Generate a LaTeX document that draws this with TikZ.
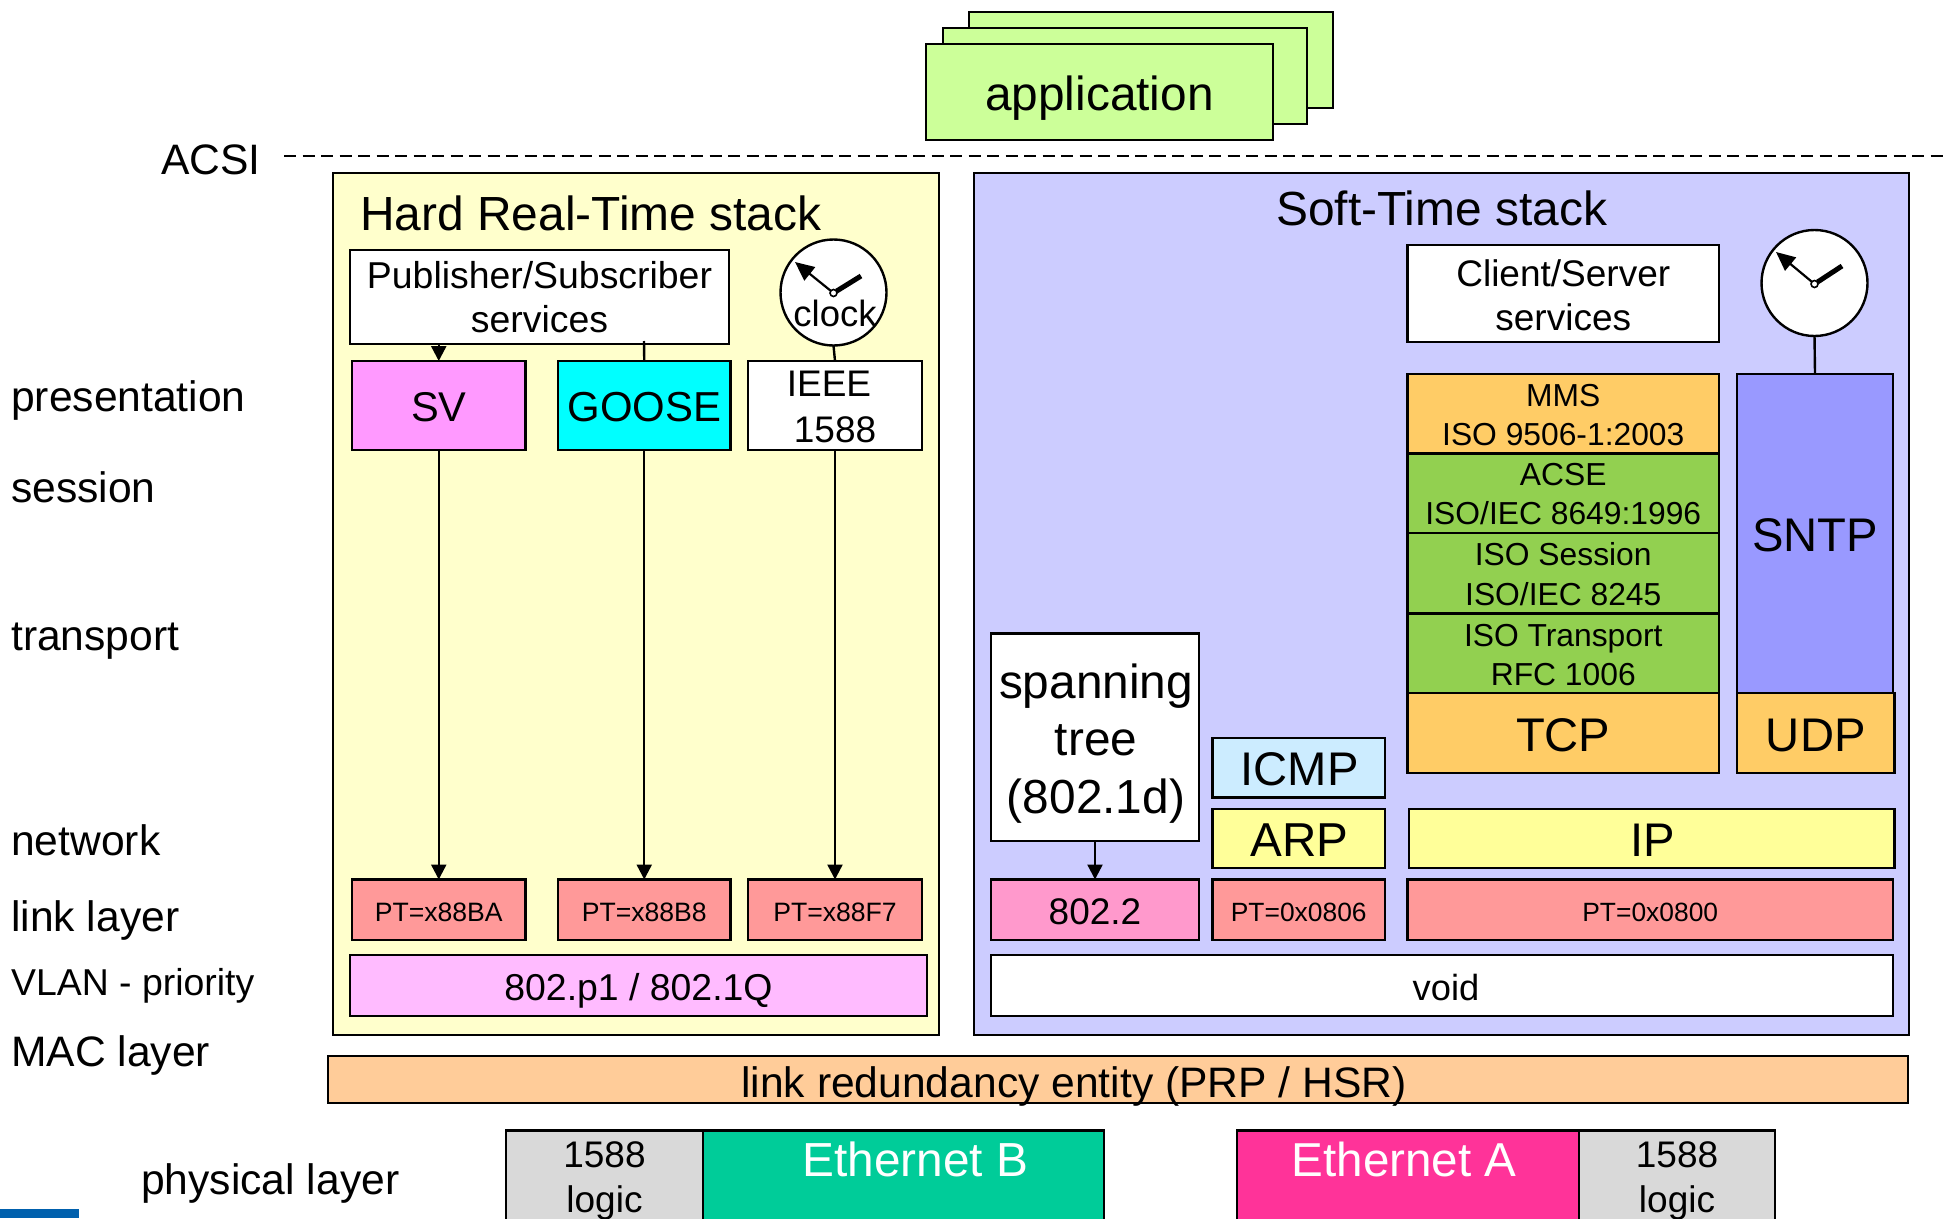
\documentclass[tikz,border=0pt]{standalone}
\usepackage{fontspec}
\setmainfont{Liberation Sans}
\usetikzlibrary{arrows.meta}
\definecolor{hardbg}{HTML}{FFFFCC}
\definecolor{softbg}{HTML}{CCCCFF}
\definecolor{appc}{HTML}{CCFF99}
\definecolor{svc}{HTML}{FF99FF}
\definecolor{goosec}{HTML}{00FFFF}
\definecolor{ptc}{HTML}{FF9999}
\definecolor{vlanc}{HTML}{FFBBFF}
\definecolor{mmsc}{HTML}{FFCC66}
\definecolor{acsec}{HTML}{92D050}
\definecolor{sntpc}{HTML}{9999FF}
\definecolor{icmpc}{HTML}{CCECFF}
\definecolor{ipc}{HTML}{FFFF99}
\definecolor{llcc}{HTML}{FF99CC}
\definecolor{redc}{HTML}{FFCC99}
\definecolor{greyc}{HTML}{D9D9D9}
\definecolor{ethb}{HTML}{00CC99}
\definecolor{etha}{HTML}{FF3399}
\definecolor{bluec}{HTML}{0060AD}
\newcommand\bx[9]{%
  \pgfmathsetmacro\bxw{#4-#2}%
  \pgfmathsetmacro\bxh{#7-#3}%
  \pgfmathsetmacro\bxd{#5-#7}%
  \node[boxbase,#6,minimum width=\bxw pt,text height=\bxh pt,text depth=\bxd pt,
        font=\fontsize{#8}{#8}\selectfont,anchor=north] (#1) at ({(#2+#4)/2},#3) {#9};}
\tikzset{
  boxbase/.style={draw=black,line width=2.3pt,inner sep=0pt,outer sep=0pt,align=center,rectangle},
  lay/.style={anchor=base west,inner sep=0pt,font=\fontsize{42.6}{50}\selectfont},
  title/.style={anchor=base west,inner sep=0pt,font=\fontsize{47.9}{56}\selectfont},
  link/.style={line width=2.4pt},
  arr/.style={line width=2.4pt,-{Triangle[length=15pt,width=15pt]}},
  face/.style={circle,draw=black,fill=white,line width=2.4pt,minimum size=106pt,inner sep=0pt,outer sep=0pt},
  pivot/.style={circle,draw=black,fill=white,line width=1.6pt,minimum size=7pt,inner sep=0pt,outer sep=0pt},
}
\begin{document}
\begin{tikzpicture}[x=1pt,y=-1pt]
\useasboundingbox (0,0) rectangle (1948,1218);
\clip (0,0) rectangle (1948,1218);
% applications
\bx{appc3}{969}{12}{1333}{108}{fill=appc}{100}{47.6}{}
\bx{appc2}{943}{28}{1307}{124}{fill=appc}{110}{47.6}{}
\bx{appc1}{926}{44}{1273}{140}{fill=appc}{110}{47.8}{application}
% ACSI
\node[anchor=base west,inner sep=0pt,font=\fontsize{42.6}{50}\selectfont] (acsi) at (161,174) {ACSI};
\coordinate (dl) at (284,156);
\coordinate (dr) at (1948,156);
\draw[line width=2pt,dash pattern=on 12pt off 6.5pt] (dl) -- (dr);
% stacks
\bx{hard}{333}{173}{939}{1035}{fill=hardbg}{200}{20}{}
\bx{soft}{974}{173}{1909}{1035}{fill=softbg}{200}{20}{}
\node[title] (hardt) at (360,230) {Hard Real-Time stack};
\node[title] (softt) at (1276,225) {Soft-Time stack};
% hard stack
\bx{pub}{350}{250}{729}{344}{fill=white}{332}{37.4}{Publisher/Subscriber\\[6pt]services}
\bx{sv}{352}{361}{525.5}{450}{fill=svc}{421}{41.6}{SV}
\bx{goose}{558}{361}{730.5}{450}{fill=goosec}{421}{41.9}{GOOSE}
\bx{ieee}{748}{361}{922}{450}{fill=white}{442}{37}{IEEE\hspace*{12pt}\\[8.5pt]1588}
\node[face] (clka) at (833.5,292.5) {};
\node[anchor=base,inner sep=0pt,font=\fontsize{36.5}{40}\selectfont] (clkat) at (835,326) {clock};
\node[pivot] (piva) at (833.5,293) {};
\coordinate (tipa) at (795,262);
\coordinate (enda) at (861,276);
\draw[line width=2.2pt,-{Triangle[length=19pt,width=17pt]}] (piva) -- (tipa);
\draw[line width=5pt] (piva) -- (enda);
\bx{pta}{352}{879.5}{525.5}{940}{fill=ptc}{921}{26.6}{PT=x88BA}
\bx{ptb}{558}{879.5}{730.5}{940}{fill=ptc}{921}{26.6}{PT=x88B8}
\bx{ptc}{748}{879.5}{922}{940}{fill=ptc}{921}{26.6}{PT=x88F7}
\bx{vlan}{350}{955}{927}{1016}{fill=vlanc}{1000}{37.4}{802.p1 / 802.1Q}
\coordinate (gup) at (644,341);
\draw[link] (gup) -- (goose.north);
\draw[arr] (pub.south -| sv.north) -- (sv.north);
\draw[link] (clka.south) -- (ieee.north);
\draw[arr] (sv.south) -- (pta.north);
\draw[arr] (goose.south) -- (ptb.north);
\draw[arr] (ieee.south) -- (ptc.north);
% soft stack
\bx{cli}{1407.5}{245}{1719}{342}{fill=white}{330}{37}{Client/Server\\[7pt]services}
\node[face] (clkb) at (1814.5,283) {};
\node[pivot] (pivb) at (1814.5,284) {};
\coordinate (tipb) at (1776,252);
\coordinate (endb) at (1842,266);
\draw[line width=2.2pt,-{Triangle[length=19pt,width=17pt]}] (pivb) -- (tipb);
\draw[line width=5pt] (pivb) -- (endb);
\bx{mms}{1407.5}{374}{1719}{453.5}{fill=mmsc}{445}{31.8}{MMS\\[6.8pt]ISO 9506-1:2003}
\bx{acse}{1407.5}{453.5}{1719}{533}{fill=acsec}{524}{31.8}{ACSE\\[6.8pt]ISO/IEC 8649:1996}
\bx{sess}{1407.5}{533}{1719}{613.5}{fill=acsec}{605}{31.8}{ISO Session\\[7.4pt]ISO/IEC 8245}
\bx{tran}{1407.5}{613.5}{1719}{693}{fill=acsec}{685}{31.8}{ISO Transport\\[6.8pt]RFC 1006}
\bx{tcp}{1407.5}{693}{1719}{773}{fill=mmsc}{751}{47.2}{TCP}
\bx{sntp}{1737}{374}{1893}{693}{fill=sntpc}{551}{47.2}{SNTP}
\bx{udp}{1737}{693}{1894.5}{773}{fill=mmsc}{751}{47.2}{UDP}
\draw[link] (clkb.south) -- (sntp.north);
\bx{span}{991}{633.5}{1199}{841}{fill=white}{813}{47.8}{\hspace*{2pt}spanning\\[9.3pt]\hspace*{2pt}tree\\[9.3pt]\hspace*{2pt}(802.1d)}
\bx{icmp}{1212.5}{738}{1385}{797.5}{fill=icmpc}{785}{47.2}{\hspace*{2pt}ICMP}
\bx{arp}{1212.5}{809}{1385}{868}{fill=ipc}{856}{47.6}{\hspace*{2pt}ARP}
\bx{ip}{1409}{809}{1894.5}{868}{fill=ipc}{856}{47.2}{\hspace*{2pt}IP}
\bx{llc}{991}{879.5}{1199}{940}{fill=llcc}{924}{37}{802.2}
\bx{ptd}{1212.5}{879.5}{1385}{940}{fill=ptc}{921}{26.4}{PT=0x0806}
\bx{pte}{1407.5}{879.5}{1893}{940}{fill=ptc}{921}{26.4}{PT=0x0800}
\bx{void}{991}{955}{1893}{1016}{fill=white}{1000}{36.3}{\hspace*{8pt}void}
\draw[arr] (span.south) -- (llc.north);
% lower bars
\bx{red}{328}{1056}{1908}{1103}{fill=redc}{1097}{42.6}{link redundancy entity (PRP / HSR)\hspace*{88pt}}
\bx{loga}{506}{1130.5}{703}{1240}{fill=greyc}{1212}{37}{1588\\[8pt]logic}
\bx{ethbn}{703}{1130.5}{1104}{1240}{fill=ethb,text=white}{1176}{47.8}{\hspace*{24pt}Ethernet B}
\bx{ethan}{1237}{1130.5}{1579}{1240}{fill=etha,text=white}{1176}{47.6}{Ethernet A\hspace*{8pt}}
\bx{logb}{1579}{1130.5}{1775}{1240}{fill=greyc}{1212}{37}{1588\\[8pt]logic}
% layer labels
\node[lay] (l1) at (11,411) {presentation};
\node[lay] (l2) at (11,502) {session};
\node[lay] (l3) at (11,650) {transport};
\node[lay] (l4) at (11,855) {network};
\node[lay] (l5) at (11,931) {link layer};
\node[lay,font=\fontsize{37.4}{44}\selectfont] (l6) at (11,995) {VLAN - priority};
\node[lay] (l7) at (11,1066) {MAC layer};
\node[lay] (l8) at (141,1194) {physical layer};
\fill[bluec] (0,1209) rectangle (79,1218);
\end{tikzpicture}
\end{document}
